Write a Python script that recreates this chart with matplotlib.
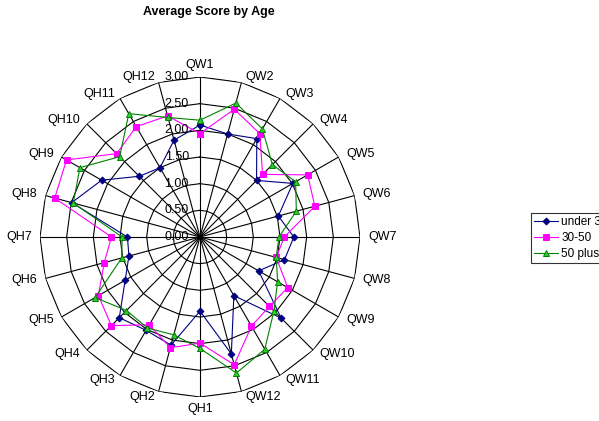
import numpy as np
import matplotlib
matplotlib.use('Agg')
import matplotlib.pyplot as plt

plt.rcParams['font.family'] = ['Liberation Sans', 'DejaVu Sans']

categories = ['QW%d' % i for i in range(1, 13)] + ['QH%d' % i for i in range(1, 13)]
under_30 = [2.10, 2.00, 2.13, 1.50, 2.01, 1.52, 1.76, 1.64, 1.27, 2.15, 1.27, 2.27,
            1.39, 2.10, 2.02, 2.14, 1.62, 1.38, 1.36, 2.49, 2.13, 1.61, 1.50, 1.88]
age_30_50 = [1.94, 2.48, 2.24, 1.66, 2.33, 2.23, 1.58, 1.48, 1.90, 1.84, 1.93, 2.48,
             1.99, 2.15, 1.90, 2.35, 2.20, 1.86, 1.66, 2.82, 2.89, 2.21, 2.39, 2.35]
plus_50 = [2.19, 2.60, 2.34, 1.92, 2.07, 1.87, 1.48, 1.48, 1.68, 1.96, 2.43, 2.64,
           2.09, 1.90, 1.97, 1.95, 2.27, 1.52, 1.46, 2.46, 2.60, 2.13, 2.67, 2.32]
ticks = [0.0, 0.5, 1.0, 1.5, 2.0, 2.5, 3.0]

W, H = 599, 421
fig = plt.figure(figsize=(W / 100, H / 100), dpi=100)
cx, cy, R = 200, 237, 160
ax = fig.add_axes([(cx - R) / W, (H - cy - R) / H, 2 * R / W, 2 * R / H], polar=True)
ax.set_theta_zero_location('N')
ax.set_theta_direction(-1)
ax.set_ylim(0, 3)
ax.grid(False)
ax.spines['polar'].set_visible(False)
ax.set_xticks([])
ax.set_yticks([])
ax.patch.set_alpha(0)

n = len(categories)
theta = np.arange(n) * 2 * np.pi / n
theta_c = np.append(theta, theta[0])

# polygon grid
for t in ticks[1:]:
    ax.plot(theta_c, [t] * (n + 1), color='black', lw=0.8, zorder=1)
for th in theta:
    ax.plot([th, th], [0, 3], color='black', lw=0.8, zorder=1)

series = [
    ('under 30', under_30, '#000080', 'D', '#000080', 3.5),
    ('30-50', age_30_50, '#FF00FF', 's', '#FF00FF', 4.5),
    ('50 plus', plus_50, '#008000', '^', '#33CC33', 5),
]
for name, vals, col, mk, fc, ms in series:
    v = np.append(vals, vals[0])
    ax.plot(theta_c, v, color=col, lw=0.8, marker=mk, markersize=ms,
            markerfacecolor=fc, markeredgecolor=col, markeredgewidth=0.7,
            label=name, zorder=3, clip_on=False)

# category labels
for th, lab in zip(theta, categories):
    s, c = np.sin(th), np.cos(th)
    ha = 'left' if s > 0.1 else ('right' if s < -0.1 else 'center')
    va = 'bottom' if c > 0.99 else ('top' if c < -0.99 else 'center')
    dx = 4.5 * s + (1.5 if s > 0.1 else (-1.5 if s < -0.1 else 0))
    dy = 4.0 * c
    ax.annotate(lab, xy=(th, 3), xytext=(dx, dy), textcoords='offset points',
                ha=ha, va=va, fontsize=9, annotation_clip=False)

# value labels along the first axis
for t in ticks:
    ax.annotate('%.2f' % t, xy=(0, t), xytext=(-8, 0), textcoords='offset points',
                ha='right', va='center', fontsize=9, annotation_clip=False)

fig.text(209 / W, 1 - 12 / H, 'Average Score by Age', ha='center', va='center',
         fontsize=9, fontweight='bold')

leg = fig.legend(loc='upper left', bbox_to_anchor=(531 / W, 1 - 213 / H),
                 frameon=True, fancybox=False, edgecolor='black', fontsize=8.5,
                 handlelength=2.0, handletextpad=0.3, borderpad=0.25,
                 labelspacing=0.35, borderaxespad=0)
leg.get_frame().set_linewidth(0.8)

fig.savefig('out.png', dpi=100)
